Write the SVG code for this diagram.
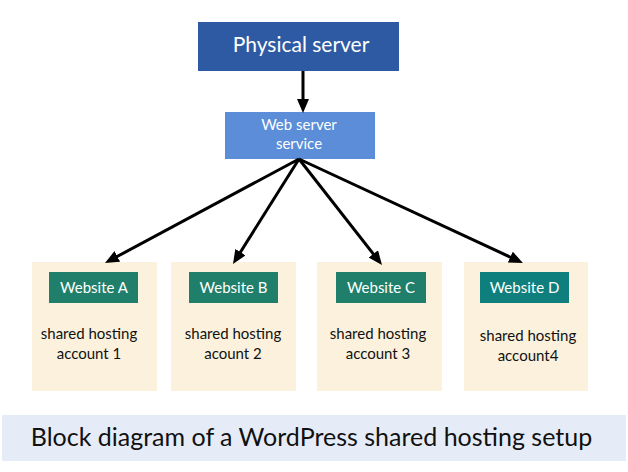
<svg xmlns="http://www.w3.org/2000/svg" width="628" height="472" viewBox="0 0 628 472">
<defs>
<style>
text{font-family:Lato,"Open Sans","Liberation Sans",sans-serif;text-anchor:middle}
.acct{fill:#FBF1DC}
.site{fill:#1F7F6B}
.wt{fill:#ffffff;font-size:15px}
.bt{fill:#111111;font-size:15px}
.conn{stroke:#000;stroke-width:3;fill:none}
</style>
<marker id="ah" viewBox="0 0 14 12" markerUnits="userSpaceOnUse" markerWidth="14" markerHeight="12" refX="4" refY="6" orient="auto">
<path d="M0,0 L14,6 L0,12 z" fill="#000"/>
</marker>
</defs>
<rect width="628" height="472" fill="#ffffff"/>
<g id="physical-server">
<rect x="198" y="22" width="201" height="49" fill="#2E5AA4"/>
<text x="301" y="52" fill="#fff" style="font-size:21px">Physical server</text>
</g>
<g id="web-server">
<rect x="225" y="112" width="150" height="47" fill="#5B8DD8"/>
<text class="wt" x="299" y="130">Web server</text>
<text class="wt" x="299" y="149">service</text>
</g>
<g id="account-a">
<rect class="acct" x="32" y="262" width="125" height="129"/>
<rect class="site" x="49" y="272" width="89" height="31"/>
<text class="wt" x="94" y="293">Website A</text>
<text class="bt" x="89" y="339">shared hosting</text>
<text class="bt" x="89" y="359">account 1</text>
</g>
<g id="account-b">
<rect class="acct" x="171" y="262" width="125" height="129"/>
<rect class="site" x="189" y="272" width="89" height="31"/>
<text class="wt" x="233.5" y="293">Website B</text>
<text class="bt" x="233" y="339">shared hosting</text>
<text class="bt" x="233" y="359">acount 2</text>
</g>
<g id="account-c">
<rect class="acct" x="317" y="262" width="125" height="129"/>
<rect class="site" x="336" y="272" width="90" height="31"/>
<text class="wt" x="381" y="293">Website C</text>
<text class="bt" x="378" y="339">shared hosting</text>
<text class="bt" x="378" y="359">account 3</text>
</g>
<g id="account-d">
<rect class="acct" x="464" y="262" width="124" height="129"/>
<rect x="480" y="272" width="89" height="31" fill="#0F7F7E"/>
<text class="wt" x="524.5" y="293">Website D</text>
<text class="bt" x="528" y="341">shared hosting</text>
<text class="bt" x="528" y="361">account4</text>
</g>
<g id="caption">
<rect x="2" y="415" width="624" height="46" fill="#E6ECF7"/>
<text x="311.5" y="446" fill="#111" style="font-size:25px">Block diagram of a WordPress shared hosting setup</text>
</g>
<g id="connectors">
<line class="conn" x1="303" y1="71" x2="303" y2="103" marker-end="url(#ah)"/>
<line class="conn" x1="299" y1="159" x2="113.8" y2="258.3" marker-end="url(#ah)"/>
<line class="conn" x1="299" y1="159" x2="238.3" y2="255.5" marker-end="url(#ah)"/>
<line class="conn" x1="299" y1="159" x2="375.8" y2="257.1" marker-end="url(#ah)"/>
<line class="conn" x1="299" y1="159" x2="513.9" y2="258.8" marker-end="url(#ah)"/>
</g>
</svg>
